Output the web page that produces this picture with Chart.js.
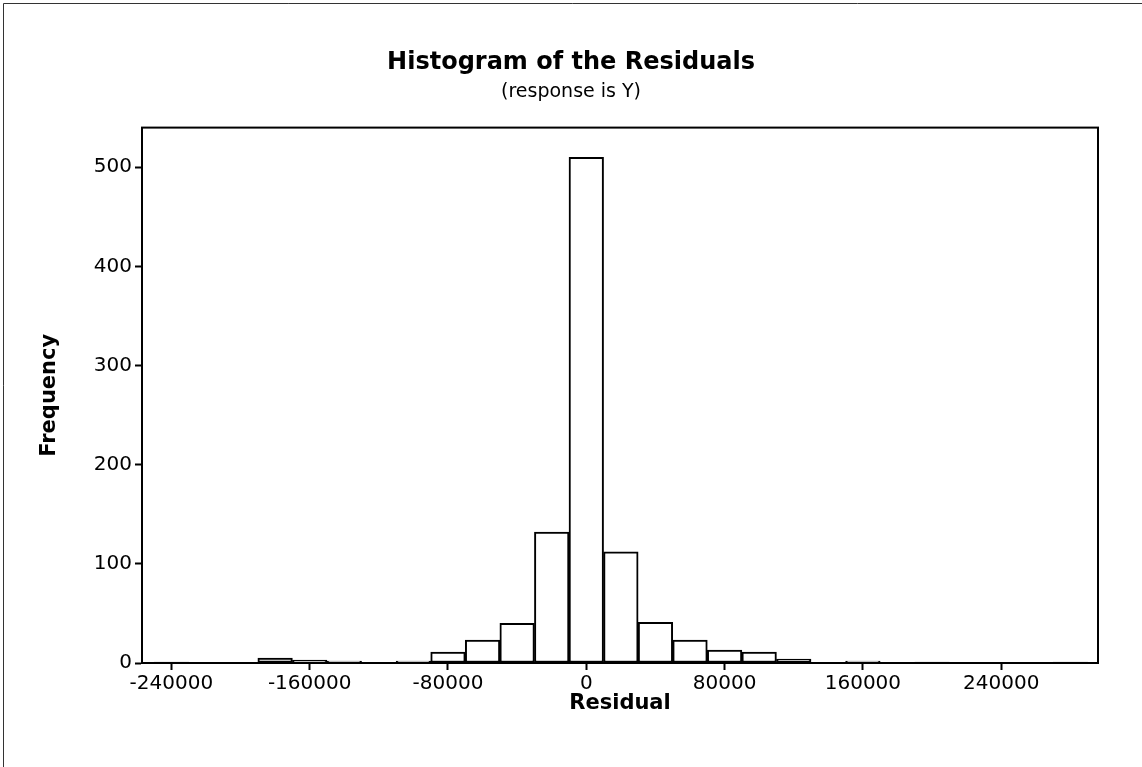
<!DOCTYPE html>
<html>
<head>
<meta charset="utf-8">
<title>Histogram of the Residuals</title>
<script src="https://cdn.jsdelivr.net/npm/chart.js@4.4.1/dist/chart.umd.min.js"></script>
<style>
  html, body { margin: 0; padding: 0; background: #fff; }
  #wrap { width: 1142px; height: 767px; }
</style>
</head>
<body>
<div id="wrap"><canvas id="histChart" width="1142" height="767"></canvas></div>
<script>
// bin midpoints (bin width 20000) and counts
const binCenters = [-240000, -220000, -200000, -180000, -160000, -140000, -120000, -100000, -80000,
    -60000, -40000, -20000, 0, 20000, 40000, 60000, 80000, 100000, 120000,
    140000, 160000, 180000, 200000, 220000, 240000, 260000, 280000];
const frequencies = [1, 0, 0, 5, 3, 2, 0, 2, 11,
    23, 40, 132, 510, 112, 41, 23, 13, 11, 4,
    0, 2, 0, 1, 0, 0, 0, 1];
const xTicks = [-240000, -160000, -80000, 0, 80000, 160000, 240000];
const yTicks = [0, 100, 200, 300, 400, 500];

const FONT = "'DejaVu Sans', Verdana, sans-serif";

// outer page frame + closed box round the plot
const framePlugin = {
    id: 'frame',
    beforeDraw(chart) {
        const ctx = chart.ctx;
        ctx.save();
        ctx.fillStyle = '#fff';
        ctx.fillRect(0, 0, chart.width, chart.height);
        ctx.strokeStyle = '#333';
        ctx.lineWidth = 1;
        ctx.beginPath();
        ctx.moveTo(3.5, chart.height);
        ctx.lineTo(3.5, 3.5);
        ctx.lineTo(chart.width, 3.5);
        ctx.stroke();
        ctx.restore();
    },
    afterDatasetsDraw(chart) {
        const { ctx, chartArea: a } = chart;
        ctx.save();
        ctx.strokeStyle = '#000';
        ctx.lineWidth = 2;
        ctx.strokeRect(a.left, a.top, a.right - a.left, a.bottom - a.top);
        ctx.restore();
    }
};

const tickGrid = {
    display: true,
    drawOnChartArea: false,
    drawTicks: true,
    tickLength: 7,
    tickWidth: 2,
    tickColor: '#000',
    offset: false
};

new Chart(document.getElementById('histChart'), {
    type: 'bar',
    data: {
        datasets: [{
            label: 'Frequency',
            data: binCenters.map((x, i) => ({ x: x, y: frequencies[i] })),
            backgroundColor: '#fff',
            borderColor: '#000',
            borderWidth: 2,
            borderSkipped: false,
            barPercentage: 1,
            categoryPercentage: 1
        }]
    },
    options: {
        responsive: false,
        animation: false,
        devicePixelRatio: 1,
        layout: { padding: 0 },
        plugins: {
            legend: { display: false },
            tooltip: { enabled: false },
            title: {
                display: true,
                text: 'Histogram of the Residuals',
                color: '#000',
                font: { family: FONT, size: 24, weight: 'bold', lineHeight: 1.2 },
                padding: { top: 48, bottom: 0 }
            },
            subtitle: {
                display: true,
                text: '(response is Y)',
                color: '#000',
                font: { family: FONT, size: 19, lineHeight: 1.2 },
                padding: { top: 4, bottom: 24 }
            }
        },
        scales: {
            x: {
                type: 'linear',
                position: 'bottom',
                min: -257000,
                max: 296000,
                offset: false,
                afterBuildTicks: s => { s.ticks = xTicks.map(v => ({ value: v })); },
                afterFit: s => { s.height = 104; },
                ticks: {
                    color: '#000',
                    font: { family: FONT, size: 20 },
                    padding: 2,
                    autoSkip: false,
                    maxRotation: 0,
                    callback: v => String(v)
                },
                grid: tickGrid,
                border: { display: true, color: '#000', width: 2 },
                title: {
                    display: true,
                    text: 'Residual',
                    color: '#000',
                    font: { family: FONT, size: 21, weight: 'bold', lineHeight: 1.2 },
                    padding: { top: 0, bottom: 51 }
                }
            },
            y: {
                min: 0,
                max: 540,
                afterBuildTicks: s => { s.ticks = yTicks.map(v => ({ value: v })); },
                afterFit: s => { s.width = 142; },
                ticks: {
                    color: '#000',
                    font: { family: FONT, size: 20 },
                    padding: 3,
                    callback: v => String(v)
                },
                grid: tickGrid,
                border: { display: true, color: '#000', width: 2 },
                title: {
                    display: true,
                    text: 'Frequency',
                    color: '#000',
                    font: { family: FONT, size: 21, weight: 'bold', lineHeight: 1.2 },
                    padding: { top: 37, bottom: 0 }
                }
            },
            // empty right-hand strip so the plot ends where the reference does
            yRight: {
                position: 'right',
                display: true,
                afterFit: s => { s.width = 44; },
                ticks: { display: false },
                grid: { display: false },
                border: { display: false }
            }
        }
    },
    plugins: [framePlugin]
});
</script>
</body>
</html>
